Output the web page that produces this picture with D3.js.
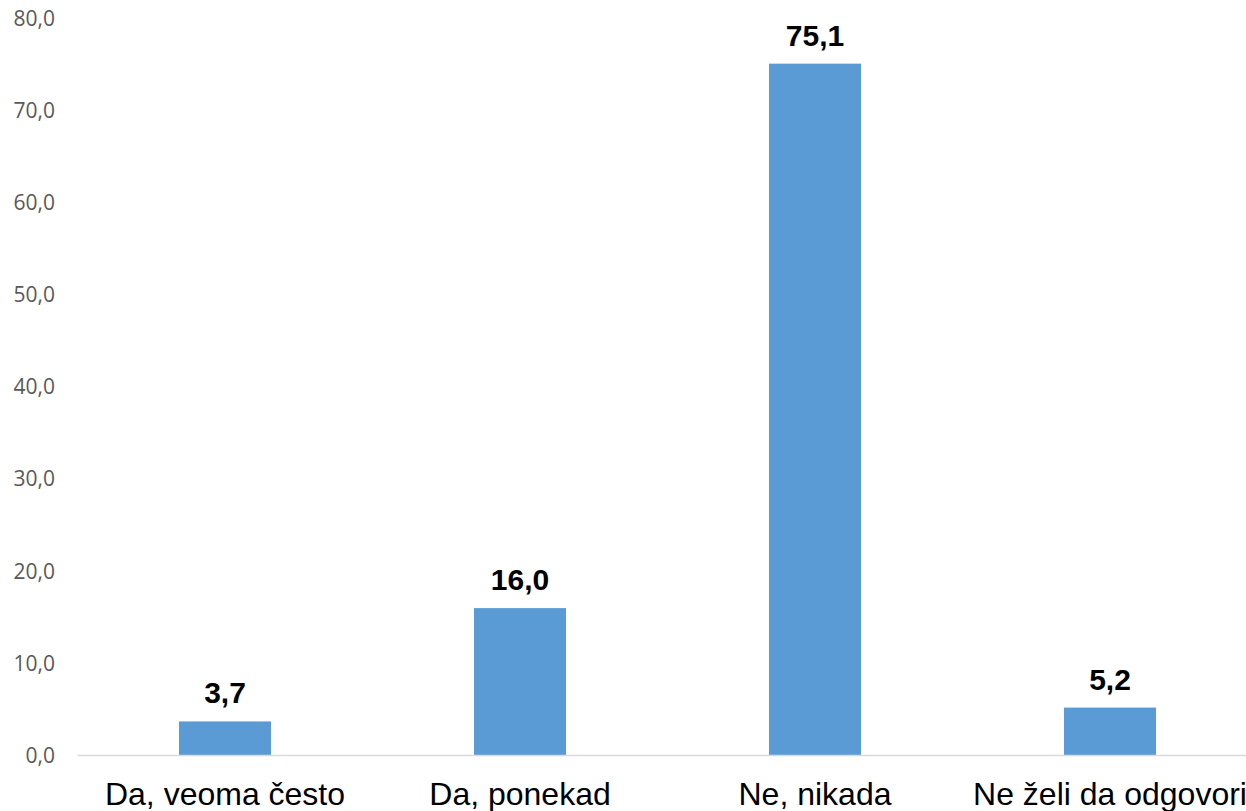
<!DOCTYPE html>
<html lang="en">
<head>
  <meta charset="UTF-8">
  <title>Bar chart</title>
  <style>
    body { margin: 0; background: #fff; }
    svg { display: block; }
  </style>
</head>
<body>
  <div id="chart"></div>

  <script src="https://d3js.org/d3.v7.min.js"></script>
  <script>
    const categories = ["Da, veoma često", "Da, ponekad", "Ne, nikada", "Ne želi da odgovori"];
    const values = [3.7, 16.0, 75.1, 5.2];
    const yTicks = [0, 10, 20, 30, 40, 50, 60, 70, 80];

    const width = 1246,
          height = 811,
          margin = {top: 18.5, right: -11.5, bottom: 55.5, left: 77.5};

    const svg = d3.select("#chart")
      .append("svg")
      .attr("width", width)
      .attr("height", height)
      .attr("viewBox", [0, 0, width, height]);

    const fmt = v => v.toFixed(1).replace(".", ",");

    const x = d3.scaleBand(categories, [margin.left, width - margin.right])
      .paddingInner(0.688)
      .paddingOuter(0.344);

    const y = d3.scaleLinear([0, 80], [height - margin.bottom, margin.top]);

    // y tick labels only, no axis line
    svg.append("g")
      .selectAll("text")
      .data(yTicks)
      .join("text")
      .attr("x", 55)
      .attr("y", d => y(d))
      .attr("dy", "0.35em")
      .attr("text-anchor", "end")
      .attr("font-family", "'Open Sans', sans-serif")
      .attr("font-size", 21)
      .attr("fill", "#595959")
      .text(fmt);

    // bars
    svg.append("g")
      .selectAll("rect")
      .data(values)
      .join("rect")
      .attr("x", (d, i) => x(categories[i]))
      .attr("y", d => y(d))
      .attr("width", x.bandwidth())
      .attr("height", d => y(0) - y(d))
      .attr("fill", "#5b9bd5");

    // baseline
    svg.append("line")
      .attr("x1", margin.left)
      .attr("x2", width)
      .attr("y1", y(0))
      .attr("y2", y(0))
      .attr("stroke", "#d9d9d9")
      .attr("stroke-width", 1.5);

    // value labels
    svg.append("g")
      .selectAll("text")
      .data(values)
      .join("text")
      .attr("x", (d, i) => x(categories[i]) + x.bandwidth() / 2)
      .attr("y", d => y(d) - 18)
      .attr("text-anchor", "middle")
      .attr("font-family", "'Liberation Sans', Arial, sans-serif")
      .attr("font-weight", "bold")
      .attr("font-size", 30)
      .attr("fill", "#000")
      .text(fmt);

    // category labels
    svg.append("g")
      .selectAll("text")
      .data(categories)
      .join("text")
      .attr("x", d => x(d) + x.bandwidth() / 2)
      .attr("y", 805)
      .attr("text-anchor", "middle")
      .attr("font-family", "'Liberation Sans', Arial, sans-serif")
      .attr("font-size", 32)
      .attr("fill", "#000")
      .text(d => d);
  </script>
</body>
</html>
